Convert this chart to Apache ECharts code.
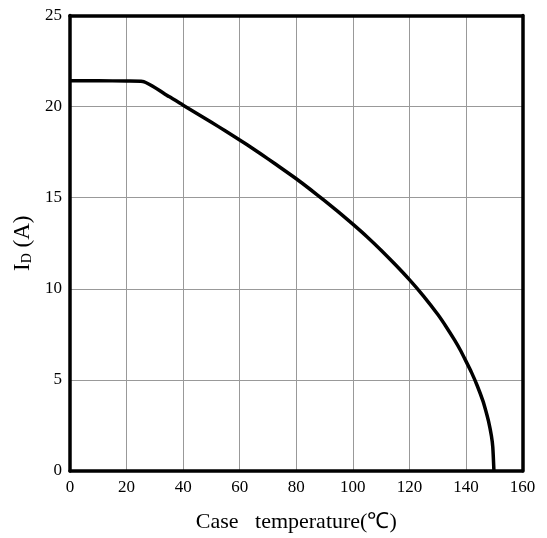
<!DOCTYPE html>
<html><head><meta charset="utf-8">
<script src="https://cdn.jsdelivr.net/npm/echarts@6/dist/echarts.min.js"></script>
<style>html,body{margin:0;padding:0;background:#fff}#c{width:547px;height:538px}</style>
</head><body><div id="c"></div>
<script>
var temps = [0, 10, 20, 25.7, 35, 40, 45, 50, 55, 60, 65, 70, 75, 80, 85, 90, 95, 100, 105, 110, 115, 120, 125, 130, 133, 136, 138, 140, 142, 144, 146, 147, 148, 149, 149.5, 149.9];
var currents = [21.42, 21.42, 21.40, 21.38, 20.55, 20.08, 19.61, 19.14, 18.66, 18.17, 17.66, 17.13, 16.59, 16.04, 15.45, 14.84, 14.21, 13.55, 12.86, 12.12, 11.33, 10.5, 9.6, 8.6, 7.92, 7.18, 6.64, 6.03, 5.4, 4.68, 3.85, 3.32, 2.72, 1.93, 1.3, 0];
var xTicks = [0, 20, 40, 60, 80, 100, 120, 140, 160];
var yTicks = [0, 5, 10, 15, 20, 25];
var xTitle = 'Case   temperature(℃)';

var font = 'Liberation Serif';
var frame = {onZero: false, lineStyle: {color: '#000', width: 3.5}};
var chart = echarts.init(document.getElementById('c'));
chart.setOption({
  animation: false,
  grid: {left: 70, right: 24.5, top: 15.5, bottom: 66},
  xAxis: [{
    type: 'value', min: xTicks[0], max: xTicks[xTicks.length - 1], interval: 20,
    name: xTitle, nameLocation: 'middle', nameGap: 40,
    nameTextStyle: {fontFamily: font, fontSize: 22, color: '#000'},
    axisLine: frame,
    axisTick: {show: false},
    axisLabel: {fontFamily: font, fontSize: 17, color: '#000', margin: 8},
    splitLine: {lineStyle: {color: '#999', width: 1}}
  }, {
    type: 'value', position: 'top', min: xTicks[0], max: xTicks[xTicks.length - 1], interval: 20,
    axisLine: frame, axisTick: {show: false}, axisLabel: {show: false}, splitLine: {show: false}
  }],
  yAxis: [{
    type: 'value', min: yTicks[0], max: yTicks[yTicks.length - 1], interval: 5,
    name: '{a|I}{b|D}{a| (A)}', nameLocation: 'middle', nameGap: 34,
    nameTextStyle: {
      rich: {
        a: {fontFamily: font, fontSize: 23, color: '#000', lineHeight: 26, verticalAlign: 'bottom'},
        b: {fontFamily: font, fontSize: 14, color: '#000', lineHeight: 26, verticalAlign: 'bottom', padding: [7, 0, 0, 0]}
      }
    },
    axisLine: frame,
    axisTick: {show: false},
    axisLabel: {fontFamily: font, fontSize: 17, color: '#000', margin: 8},
    splitLine: {lineStyle: {color: '#999', width: 1}}
  }, {
    type: 'value', position: 'right', min: yTicks[0], max: yTicks[yTicks.length - 1], interval: 5,
    axisLine: frame, axisTick: {show: false}, axisLabel: {show: false}, splitLine: {show: false}
  }],
  series: [{
    type: 'line', smooth: 0.2, symbol: 'none',
    lineStyle: {color: '#000', width: 3.5, join: 'round'},
    data: temps.map(function (t, i) { return [t, currents[i]]; })
  }]
});
</script></body></html>
